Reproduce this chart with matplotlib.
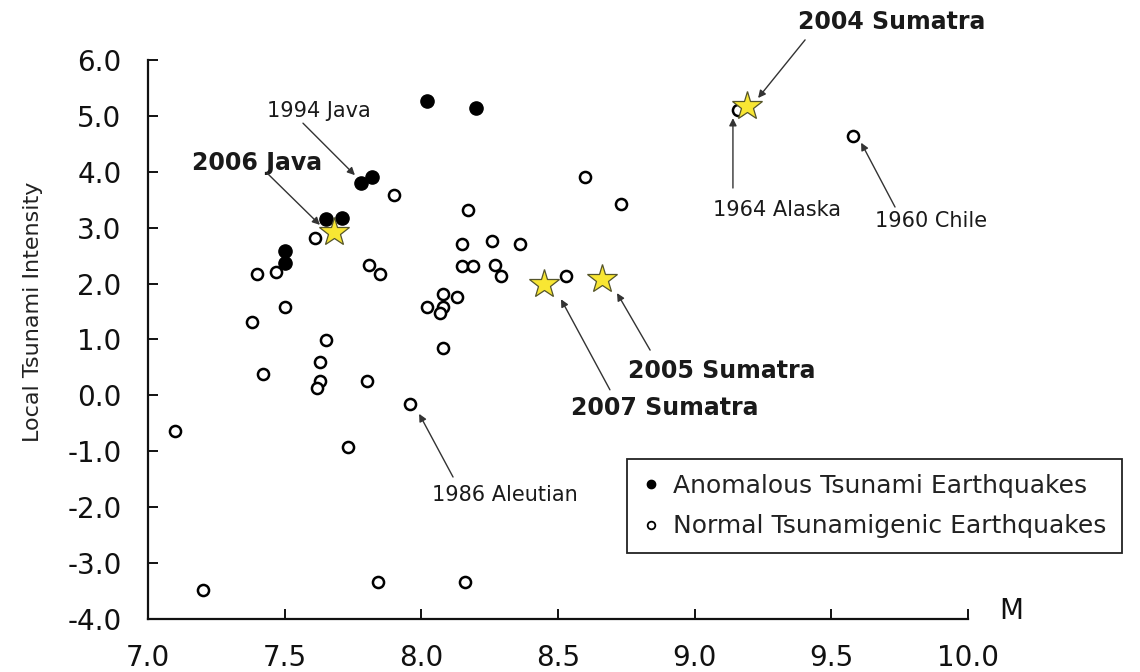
import matplotlib
matplotlib.use("Agg")
import matplotlib.pyplot as plt
from matplotlib.lines import Line2D

plt.rcParams['font.family'] = ['DejaVu Sans']

# ---------------- data ----------------
anom_m = [8.02, 8.20, 7.78, 7.82, 7.65, 7.71, 7.50, 7.50]
anom_i = [5.27, 5.14, 3.80, 3.91, 3.16, 3.18, 2.58, 2.37]

norm_m = [7.10, 7.20, 7.38, 7.40, 7.42, 7.47, 7.50, 7.61, 7.65, 7.63,
          7.63, 7.62, 7.80, 7.73, 7.84, 7.90, 7.81, 7.85, 7.96, 8.17,
          8.15, 8.26, 8.36, 8.15, 8.19, 8.27, 8.29, 8.53, 8.08, 8.13,
          8.02, 8.08, 8.07, 8.08, 8.16, 8.60, 8.73, 9.16, 9.58]
norm_i = [-0.63, -3.48, 1.31, 2.17, 0.38, 2.21, 1.59, 2.82, 0.99, 0.59,
          0.26, 0.13, 0.26, -0.92, -3.34, 3.59, 2.33, 2.17, -0.15, 3.32,
          2.71, 2.76, 2.71, 2.32, 2.32, 2.33, 2.14, 2.14, 1.82, 1.76,
          1.59, 1.58, 1.48, 0.85, -3.34, 3.90, 3.42, 5.11, 4.64]

star_m = [7.68, 8.45, 8.66, 9.19]
star_i = [2.92, 1.99, 2.08, 5.18]

x_ticks = [7.0, 7.5, 8.0, 8.5, 9.0, 9.5, 10.0]
x_tick_labels = ["7.0", "7.5", "8.0", "8.5", "9.0", "9.5", "10.0"]
y_ticks = [-4, -3, -2, -1, 0, 1, 2, 3, 4, 5, 6]
y_tick_labels = ["-4.0", "-3.0", "-2.0", "-1.0", "0.0", "1.0", "2.0",
                 "3.0", "4.0", "5.0", "6.0"]

# labels: (text, text_x, text_y, arrow_start, arrow_end, bold)
labels = [
    ("2004 Sumatra", 9.72, 6.68, (9.404, 6.36), (9.232, 5.32), True),
    ("1994 Java", 7.626, 5.09, (7.567, 4.87), (7.757, 3.94), False),
    ("2006 Java", 7.40, 4.16, (7.435, 3.98), (7.629, 3.05), True),
    ("1964 Alaska", 9.30, 3.32, (9.14, 3.71), (9.14, 4.96), False),
    ("1960 Chile", 9.865, 3.12, (9.733, 3.37), (9.609, 4.52), False),
    ("2005 Sumatra", 9.10, 0.44, (8.837, 0.81), (8.716, 1.83), True),
    ("2007 Sumatra", 8.89, -0.22, (8.690, 0.10), (8.511, 1.72), True),
    ("1986 Aleutian", 8.306, -1.78, (8.116, -1.46), (7.992, -0.33), False),
]

# ---------------- figure ----------------
fig = plt.figure(figsize=(11.4, 6.72), dpi=100)
ax = fig.add_axes([148 / 1140, 1 - 619 / 672, 820 / 1140, 559 / 672])

ax.set_xlim(7.0, 10.0)
ax.set_ylim(-4.0, 6.0)

ax.plot(norm_m, norm_i, linestyle='none', marker='o', markersize=8,
        markerfacecolor='white', markeredgecolor='black',
        markeredgewidth=1.8, zorder=3)
ax.plot(anom_m, anom_i, linestyle='none', marker='o', markersize=9.5,
        markerfacecolor='black', markeredgecolor='black', zorder=4)
ax.plot(star_m, star_i, linestyle='none', marker='*', markersize=22,
        markerfacecolor='#F8E633', markeredgecolor='#55552a',
        markeredgewidth=0.9, zorder=5)

for text, tx, ty, a0, a1, bold in labels:
    ax.text(tx, ty, text, ha='center', va='center',
            fontsize=17 if bold else 15,
            fontweight='bold' if bold else 'normal',
            color='#1a1a1a', clip_on=False)
    ax.annotate('', xy=a1, xytext=a0,
                arrowprops=dict(arrowstyle='-|>', color='#333333', lw=1.0,
                                mutation_scale=11, shrinkA=0, shrinkB=0),
                annotation_clip=False)

# axes styling
for s in ['top', 'right']:
    ax.spines[s].set_visible(False)
for s in ['left', 'bottom']:
    ax.spines[s].set_linewidth(1.6)
    ax.spines[s].set_color('#111111')

ax.set_xticks(x_ticks)
ax.set_xticklabels(x_tick_labels)
ax.set_yticks(y_ticks)
ax.set_yticklabels(y_tick_labels)
ax.tick_params(axis='both', direction='in', length=7, width=1.4,
               labelsize=20, colors='#111111')
ax.tick_params(axis='y', pad=19)
ax.tick_params(axis='x', pad=18)

ax.set_ylabel('Local Tsunami Intensity', fontsize=16, color='#222222')
ax.yaxis.set_label_coords(-0.128, 0.549)

ax.text(10.16, -3.86, 'M', fontsize=20, ha='center', va='center',
        color='#111111', clip_on=False)

handles = [
    Line2D([], [], linestyle='none', marker='o', markersize=6,
           markerfacecolor='black', markeredgecolor='black'),
    Line2D([], [], linestyle='none', marker='o', markersize=5.5,
           markerfacecolor='white', markeredgecolor='black',
           markeredgewidth=1.3),
]
leg = ax.legend(handles, ['Anomalous Tsunami Earthquakes',
                          'Normal Tsunamigenic Earthquakes'],
                loc='upper left', bbox_to_anchor=(0.584, 0.286),
                borderaxespad=0, fontsize=18, frameon=True, fancybox=False,
                edgecolor='#222222', framealpha=1, handlelength=0.7,
                handletextpad=0.55, borderpad=0.6, labelspacing=0.65)
leg.get_frame().set_linewidth(1.3)
for t in leg.get_texts():
    t.set_color('#222222')

fig.savefig('out.png', dpi=100)
